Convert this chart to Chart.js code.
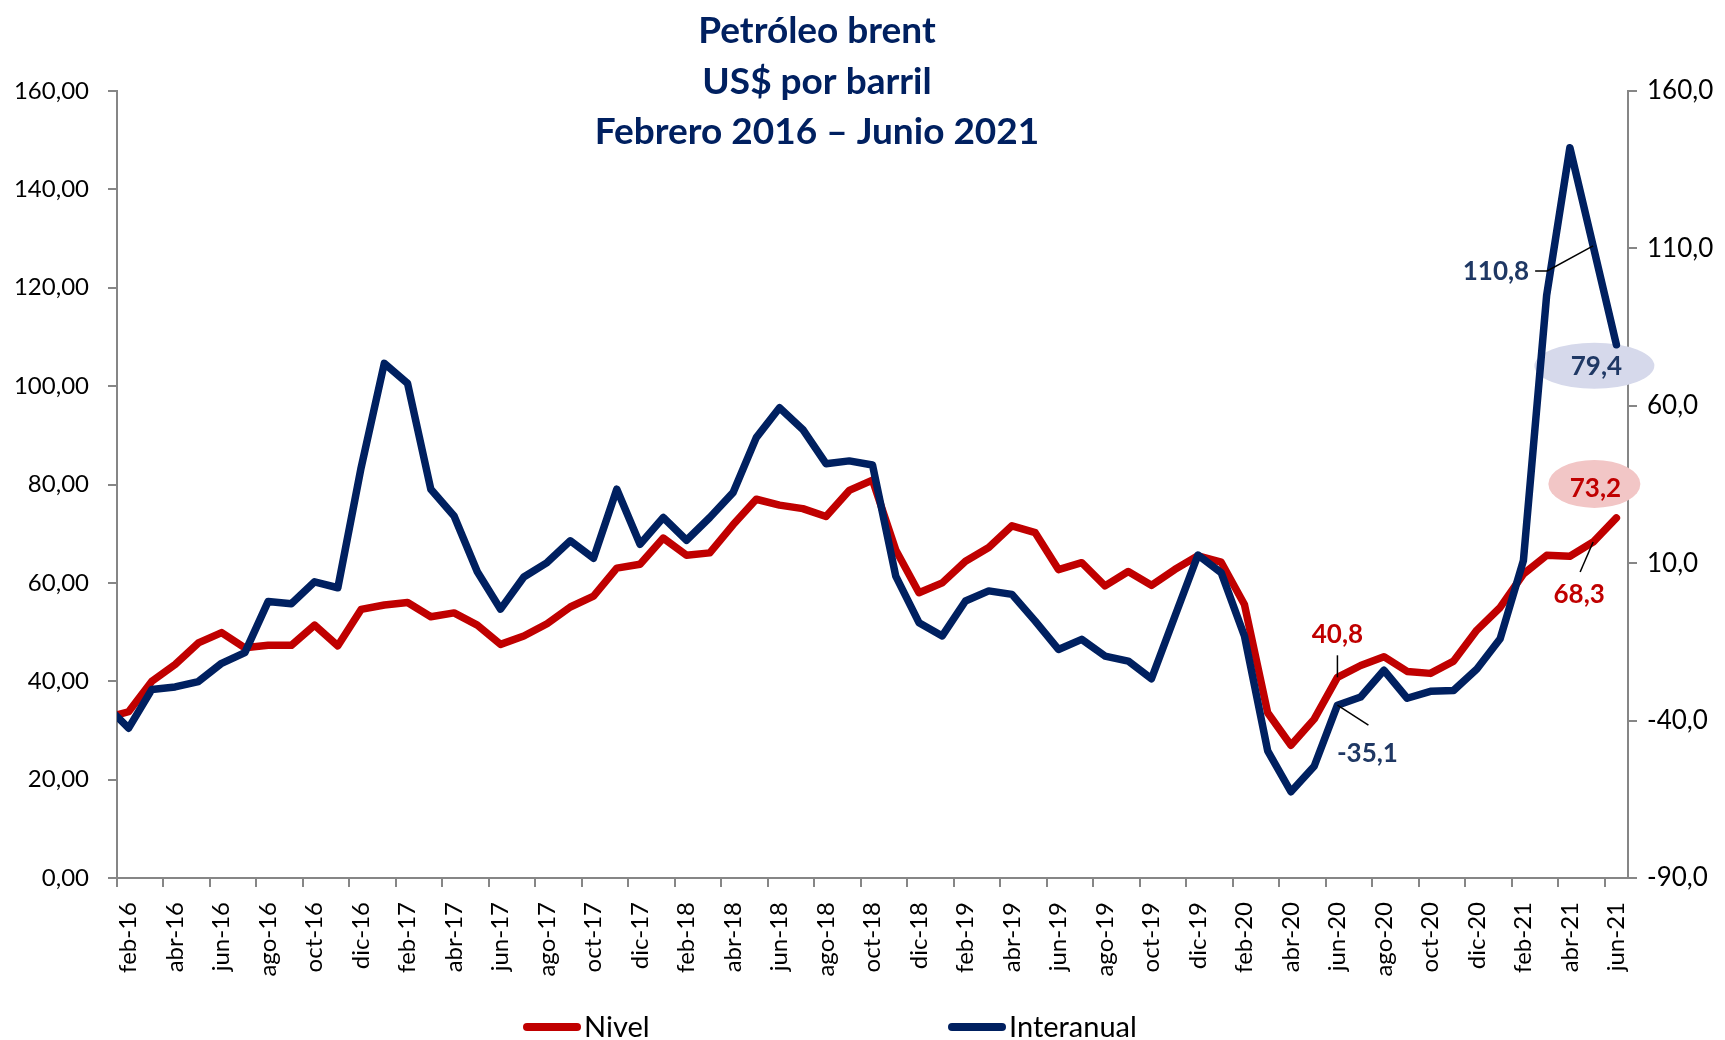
<!DOCTYPE html>
<html>
<head>
<meta charset="utf-8">
<script src="https://cdn.jsdelivr.net/npm/chart.js@4.4.0/dist/chart.umd.min.js"></script>
<style>
  html, body { margin: 0; padding: 0; background: #fff; }
</style>
</head>
<body>
<canvas id="brentChart" width="1725" height="1040"></canvas>
<script>
// meses (ene-16 queda fuera del eje, solo para que la linea entre recortada)
const meses = [
  'ene-16','feb-16','mar-16','abr-16','may-16','jun-16','jul-16','ago-16','sep-16','oct-16','nov-16','dic-16',
  'ene-17','feb-17','mar-17','abr-17','may-17','jun-17','jul-17','ago-17','sep-17','oct-17','nov-17','dic-17',
  'ene-18','feb-18','mar-18','abr-18','may-18','jun-18','jul-18','ago-18','sep-18','oct-18','nov-18','dic-18',
  'ene-19','feb-19','mar-19','abr-19','may-19','jun-19','jul-19','ago-19','sep-19','oct-19','nov-19','dic-19',
  'ene-20','feb-20','mar-20','abr-20','may-20','jun-20','jul-20','ago-20','sep-20','oct-20','nov-20','dic-20',
  'ene-21','feb-21','mar-21','abr-21','may-21','jun-21'
];

// US$ por barril (eje izquierdo)
const nivel = [
  32.5, 33.8, 40.0, 43.4, 47.8, 49.9, 46.8, 47.3, 47.3, 51.4, 47.2, 54.6,
  55.5, 56.0, 53.1, 53.9, 51.4, 47.5, 49.2, 51.7, 55.1, 57.3, 63.0, 63.8,
  69.1, 65.6, 66.1, 71.8, 77.0, 75.8, 75.1, 73.5, 78.8, 80.9, 66.7, 58.0,
  60.0, 64.4, 67.2, 71.6, 70.2, 62.7, 64.1, 59.4, 62.3, 59.5, 62.7, 65.5,
  64.2, 55.6, 33.6, 27.0, 32.3, 40.8, 43.2, 45.0, 42.0, 41.6, 44.1, 50.4,
  55.0, 61.8, 65.6, 65.4, 68.3, 73.2
];

// variacion interanual % (eje derecho)
const interanual = [
  -35.0, -42.4, -30.1, -29.3, -27.6, -21.8, -18.4, -2.2, -2.9, 4.1, 2.2, 40.3,
  73.5, 67.1, 33.5, 25.0, 7.3, -4.6, 5.6, 10.2, 17.1, 11.6, 33.5, 16.0,
  24.5, 17.3, 24.5, 32.4, 49.9, 59.4, 52.5, 41.6, 42.5, 41.2, 5.9, -8.9,
  -13.1, -2.0, 1.2, 0.1, -8.4, -17.4, -14.2, -19.5, -21.1, -26.7, -7.0, 12.6,
  7.0, -13.1, -49.6, -62.6, -54.5, -35.1, -32.5, -24.0, -32.9, -30.7, -30.4, -23.6,
  -14.0, 10.8, 95.1, 142.0, 110.8, 79.4
];

const titulo = ['Petróleo brent', 'US$ por barril', 'Febrero 2016 – Junio 2021'];

const ROJO = '#C00000';
const AZUL = '#002060';
const GRIS = '#868686';
const FUENTE = 'Lato, "Open Sans", sans-serif';

const fmt = v => v.toFixed(1).replace('.', ',');

// titulo, leyenda y etiquetas de datos
const extras = {
  id: 'extras',
  beforeDatasetsDraw(chart) {
    const ctx = chart.ctx;
    const x = chart.scales.x, y = chart.scales.y, y1 = chart.scales.y1;
    const ult = meses.length - 1;
    const px = x.getPixelForValue(ult);
    ctx.save();
    ctx.fillStyle = '#D6D9EB';
    ctx.beginPath();
    ctx.ellipse(px - 22, y1.getPixelForValue(interanual[ult]) + 21, 60, 23, 0, 0, Math.PI * 2);
    ctx.fill();
    ctx.fillStyle = '#F2C6C6';
    ctx.beginPath();
    ctx.ellipse(px - 22, y.getPixelForValue(nivel[ult]) - 34, 46, 24, 0, 0, Math.PI * 2);
    ctx.fill();
    ctx.restore();
  },
  afterDatasetsDraw(chart) {
    const ctx = chart.ctx;
    const x = chart.scales.x, y = chart.scales.y, y1 = chart.scales.y1;
    const ult = meses.length - 1;
    const pen = ult - 1;
    const jun20 = meses.indexOf('jun-20');

    ctx.save();
    ctx.font = 'bold 26px ' + FUENTE;
    ctx.textBaseline = 'middle';
    ctx.strokeStyle = '#000';
    ctx.lineWidth = 1.5;

    // jun-21
    let px = x.getPixelForValue(ult);
    ctx.textAlign = 'center';
    ctx.fillStyle = '#1F3864';
    ctx.fillText(fmt(interanual[ult]), px - 20, y1.getPixelForValue(interanual[ult]) + 22);
    ctx.fillStyle = ROJO;
    ctx.fillText(fmt(nivel[ult]), px - 21, y.getPixelForValue(nivel[ult]) - 29);

    // may-21
    px = x.getPixelForValue(pen);
    let py = y1.getPixelForValue(interanual[pen]);
    ctx.beginPath();
    ctx.moveTo(px, py);
    ctx.lineTo(px - 46, py + 25);
    ctx.lineTo(px - 58, py + 25);
    ctx.stroke();
    ctx.textAlign = 'right';
    ctx.fillStyle = '#1F3864';
    ctx.fillText(fmt(interanual[pen]), px - 64, py + 26);

    py = y.getPixelForValue(nivel[pen]);
    ctx.beginPath();
    ctx.moveTo(px, py);
    ctx.lineTo(px - 13, py + 30);
    ctx.stroke();
    ctx.textAlign = 'center';
    ctx.fillStyle = ROJO;
    ctx.fillText(fmt(nivel[pen]), px - 14, py + 53);

    // jun-20
    px = x.getPixelForValue(jun20);
    py = y.getPixelForValue(nivel[jun20]);
    ctx.beginPath();
    ctx.moveTo(px, py);
    ctx.lineTo(px, py - 22);
    ctx.stroke();
    ctx.fillText(fmt(nivel[jun20]), px, py - 43);

    py = y1.getPixelForValue(interanual[jun20]);
    ctx.beginPath();
    ctx.moveTo(px, py);
    ctx.lineTo(px + 31, py + 20);
    ctx.stroke();
    ctx.fillStyle = '#1F3864';
    ctx.fillText(fmt(interanual[jun20]), px + 30, py + 48);
    ctx.restore();
  },
  afterDraw(chart) {
    const ctx = chart.ctx;
    ctx.save();
    // titulo
    ctx.fillStyle = AZUL;
    ctx.font = 'bold 37px ' + FUENTE;
    ctx.textAlign = 'center';
    ctx.textBaseline = 'alphabetic';
    titulo.forEach((t, i) => ctx.fillText(t, 817, 43 + i * 50.5));

    // leyenda
    ctx.font = '29px ' + FUENTE;
    ctx.textAlign = 'left';
    ctx.textBaseline = 'alphabetic';
    const items = [[0, 527], [1, 952]];
    items.forEach(([d, x0]) => {
      const ds = chart.data.datasets[d];
      ctx.strokeStyle = ds.borderColor;
      ctx.lineWidth = 8;
      ctx.lineCap = 'round';
      ctx.beginPath();
      ctx.moveTo(x0, 1027);
      ctx.lineTo(x0 + 50, 1027);
      ctx.stroke();
      ctx.fillStyle = '#000';
      ctx.fillText(ds.label, x0 + 57, 1037);
    });
    ctx.restore();
  }
};

const ticksColor = ctx => (ctx.index % 2 === 0 ? GRIS : 'rgba(0,0,0,0)');

new Chart(document.getElementById('brentChart'), {
  type: 'line',
  data: {
    labels: meses,
    datasets: [{
      label: 'Nivel',
      data: nivel,
      yAxisID: 'y',
      borderColor: ROJO,
      borderWidth: 7.5,
      borderJoinStyle: 'round',
      borderCapStyle: 'round',
      pointRadius: 0,
      tension: 0,
      order: 2
    }, {
      label: 'Interanual',
      data: interanual,
      yAxisID: 'y1',
      borderColor: AZUL,
      borderWidth: 7.5,
      borderJoinStyle: 'round',
      borderCapStyle: 'round',
      pointRadius: 0,
      tension: 0,
      order: 1
    }]
  },
  options: {
    responsive: false,
    animation: false,
    layout: { padding: { top: 91, left: 0, right: 0, bottom: 0 } },
    plugins: {
      legend: { display: false },
      title: { display: false },
      tooltip: { enabled: false }
    },
    scales: {
      x: {
        type: 'category',
        min: 'feb-16',
        offset: true,
        border: { color: GRIS, width: 2 },
        grid: {
          offset: true,
          drawOnChartArea: false,
          drawTicks: true,
          tickLength: 9,
          lineWidth: 2,
          tickColor: ticksColor,
          color: ticksColor
        },
        ticks: {
          autoSkip: false,
          minRotation: 90,
          maxRotation: 90,
          padding: 15,
          color: '#000',
          font: { family: FUENTE, size: 24 },
          callback: function (value, index) {
            return index % 2 === 0 ? this.getLabelForValue(value) : '';
          }
        },
        afterFit(scale) { scale.height = 162; }
      },
      y: {
        position: 'left',
        min: 0,
        max: 160,
        border: { color: GRIS, width: 2 },
        grid: { drawOnChartArea: false, tickLength: 9, lineWidth: 2, color: GRIS },
        ticks: {
          stepSize: 20,
          padding: 19,
          color: '#000',
          font: { family: FUENTE, size: 24 },
          callback: v => v.toFixed(2).replace('.', ',')
        },
        afterFit(scale) { scale.width = 117; }
      },
      y1: {
        position: 'right',
        min: -90,
        max: 160,
        border: { color: GRIS, width: 2 },
        grid: { drawOnChartArea: false, tickLength: 9, lineWidth: 2, color: GRIS },
        ticks: {
          stepSize: 50,
          padding: 10,
          color: '#000',
          font: { family: FUENTE, size: 26 },
          callback: v => v.toFixed(1).replace('.', ',')
        },
        afterFit(scale) { scale.width = 97; }
      }
    }
  },
  plugins: [extras]
});
</script>
</body>
</html>
